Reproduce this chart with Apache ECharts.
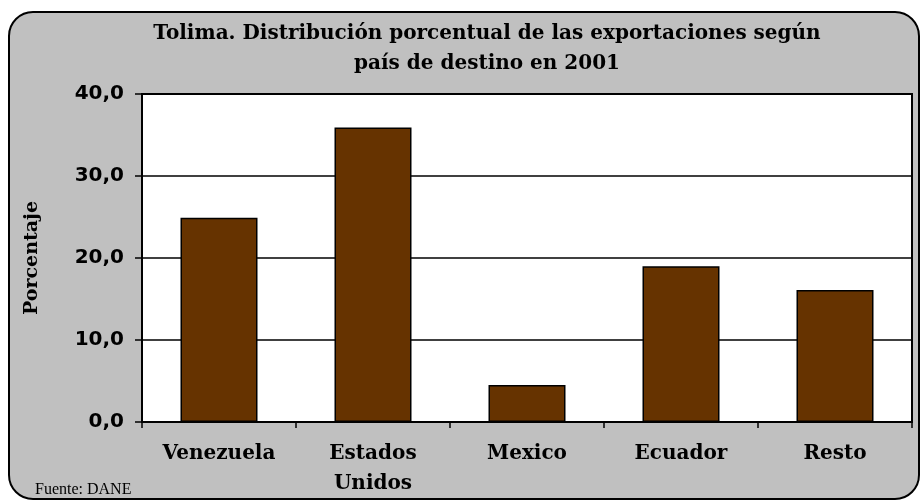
<!DOCTYPE html>
<html><head><meta charset="utf-8">
<script src="https://cdn.jsdelivr.net/npm/echarts@6/dist/echarts.min.js"></script>
<style>html,body{margin:0;padding:0;background:#fff}#c{width:920px;height:501px}</style>
</head><body><div id="c"></div>
<script>
const categories = ['Venezuela', 'Estados\nUnidos', 'Mexico', 'Ecuador', 'Resto'];
const values = [24.9, 35.9, 4.5, 19.0, 16.1];
const yTicks = [0, 10, 20, 30, 40];
const titleText = 'Tolima. Distribución porcentual de las exportaciones según\npaís de destino en 2001';

const chart = echarts.init(document.getElementById('c'));
chart.setOption({
  backgroundColor: '#ffffff',
  animation: false,
  graphic: [{
    type: 'rect', z: -10, silent: true,
    shape: {x: 9, y: 12, width: 910, height: 487, r: 24},
    style: {fill: '#C0C0C0', stroke: '#000', lineWidth: 2}
  }, {
    type: 'rect', z: -5, silent: true,
    shape: {x: 142, y: 94, width: 770, height: 328},
    style: {fill: '#ffffff', stroke: '#000', lineWidth: 2}
  }, {
    type: 'text', left: 35, top: 482,
    style: {text: 'Fuente: DANE', font: '16px "Liberation Serif"', fill: '#000'}
  }],
  title: {
    text: titleText, left: 482, top: 14, textAlign: 'center',
    textStyle: {fontFamily: 'DejaVu Serif', fontWeight: 'bold', fontSize: 20, lineHeight: 30, color: '#000'}
  },
  grid: {left: 142, right: 8, top: 94, bottom: 79, containLabel: false},
  xAxis: {
    type: 'category', data: categories,
    axisLine: {lineStyle: {color: '#000', width: 2}},
    axisTick: {show: true, length: 6, lineStyle: {color: '#000', width: 1.5}},
    axisLabel: {margin: 17, fontFamily: 'DejaVu Serif', fontWeight: 'bold', fontSize: 20, color: '#000', lineHeight: 30}
  },
  yAxis: {
    type: 'value', min: 0, max: 40, interval: 10,
    name: 'Porcentaje', nameLocation: 'middle', nameGap: 100, nameRotate: 90,
    nameTextStyle: {fontFamily: 'DejaVu Serif', fontWeight: 'bold', fontSize: 19, color: '#000'},
    axisLine: {show: true, lineStyle: {color: '#000', width: 2}},
    axisTick: {show: true, length: 7, lineStyle: {color: '#000', width: 1.5}},
    axisLabel: {margin: 18, fontFamily: 'DejaVu Sans', fontWeight: 'bold', fontSize: 20, color: '#000',
      formatter: v => yTicks.includes(v) ? v.toFixed(1).replace('.', ',') : ''},
    splitLine: {show: true, lineStyle: {color: '#000', width: 1.5}}
  },
  series: [{
    type: 'bar', data: values, barWidth: '50%',
    itemStyle: {color: '#663300', borderColor: '#000', borderWidth: 1.5}
  }]
});
</script></body></html>
